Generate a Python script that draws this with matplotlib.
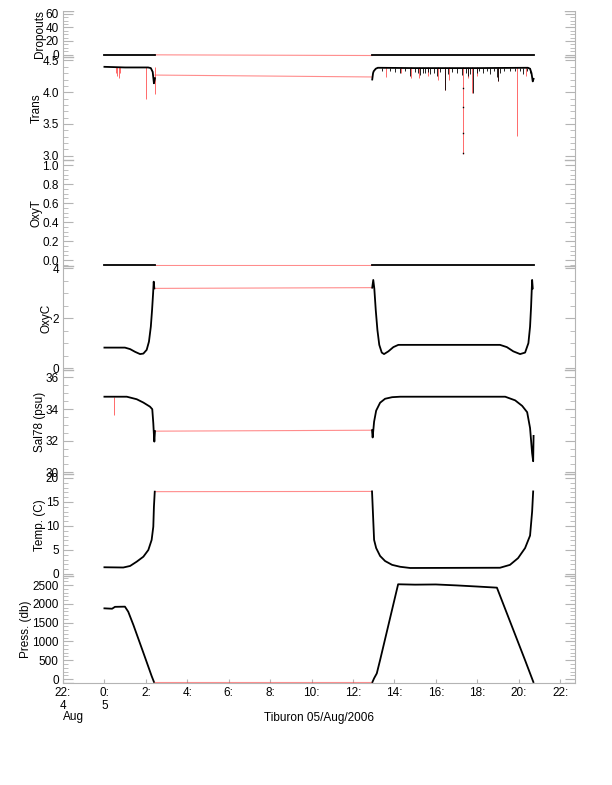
import matplotlib
matplotlib.use('Agg')
from matplotlib import pyplot as plt
from matplotlib.ticker import MultipleLocator

plt.rcParams['font.family'] = ['Liberation Sans', 'DejaVu Sans']
plt.rcParams['font.size'] = 8.5

# time axis: hours after 00:00 on 05/Aug/2006
hour_ticks = [-2, 0, 2, 4, 6, 8, 10, 12, 14, 16, 18, 20, 22]
hour_labels = ['22:\n4', '0:\n5', '2:', '4:', '6:', '8:', '10:', '12:',
               '14:', '16:', '18:', '20:', '22:']

# Dropouts
drop_t1 = [0.0, 2.42]
drop_v1 = [0.0, 0.0]
drop_t2 = [12.93, 20.72]
drop_v2 = [0.0, 0.0]
drop_gap = [-0.5, -1.5]

# Trans
trans_t1 = [0.0, 1.0, 2.11, 2.24, 2.33, 2.39, 2.44]
trans_v1 = [4.40, 4.39, 4.39, 4.38, 4.32, 4.14, 4.22]
trans_t2 = [12.93, 12.97, 13.0, 13.1, 13.2, 15.0, 18.0, 20.45, 20.55, 20.62, 20.68, 20.72]
trans_v2 = [4.20, 4.30, 4.33, 4.37, 4.385, 4.38, 4.38, 4.385, 4.37, 4.30, 4.17, 4.21]
trans_gap = [4.27, 4.24]
trans_spike_t = [0.55, 0.62, 0.70, 0.75, 2.01, 2.44, 13.60, 14.32, 14.79, 15.19,
                 15.63, 16.11, 16.43, 16.64, 17.33, 17.56, 17.76, 17.97, 19.02,
                 19.94, 20.36]
trans_spike_lo = [4.31, 4.25, 4.23, 4.30, 3.89, 3.97, 4.24, 4.31, 4.23, 4.22,
                  4.26, 4.19, 4.03, 4.20, 3.02, 4.23, 3.98, 4.26, 4.17,
                  3.31, 4.26]
trans_fuzz_t = [13.4, 13.8, 14.05, 14.27, 14.5, 14.76, 15.0, 15.12, 15.24, 15.36,
                15.48, 15.6, 15.72, 15.9, 16.04, 16.2, 16.45, 16.61, 16.8,
                17.01, 17.25, 17.45, 17.57, 17.65, 17.78, 17.97, 18.1, 18.30,
                18.45, 18.62, 18.8, 18.94, 19.02, 19.10, 19.3, 19.6, 19.8,
                20.05, 20.23, 20.4, 20.55]
trans_fuzz_lo = [4.34, 4.33, 4.32, 4.30, 4.33, 4.25, 4.32, 4.30, 4.27, 4.31,
                 4.30, 4.32, 4.28, 4.31, 4.26, 4.32, 4.03, 4.28, 4.32,
                 4.30, 4.27, 4.31, 4.25, 4.29, 3.98, 4.30, 4.33, 4.31,
                 4.33, 4.28, 4.33, 4.24, 4.17, 4.30, 4.34, 4.33, 4.34,
                 4.33, 4.29, 4.33, 4.31]
trans_dot_t = [17.33, 17.33, 17.33, 17.33]
trans_dot_v = [4.06, 3.77, 3.35, 3.04]

# OxyT
oxyt_t1 = [0.0, 2.42]
oxyt_v1 = [-0.05, -0.05]
oxyt_t2 = [12.93, 20.72]
oxyt_v2 = [-0.05, -0.05]
oxyt_gap = [-0.05, -0.05]

# OxyC
oxyc_t1 = [0.0, 0.99, 1.24, 1.48, 1.72, 1.88, 2.04, 2.15, 2.24, 2.30, 2.35, 2.38, 2.41]
oxyc_v1 = [0.82, 0.82, 0.76, 0.65, 0.56, 0.58, 0.73, 1.06, 1.66, 2.33, 3.0, 3.47, 3.2]
oxyc_t2 = [12.93, 12.98, 13.03, 13.10, 13.18, 13.27, 13.39, 13.50, 13.71, 13.95,
           14.19, 19.10, 19.43, 19.74, 20.07, 20.31, 20.47, 20.55, 20.60, 20.65, 20.68]
oxyc_v2 = [3.23, 3.54, 3.2, 2.33, 1.53, 0.93, 0.62, 0.56, 0.67, 0.84,
           0.93, 0.93, 0.84, 0.67, 0.56, 0.62, 1.0, 1.66, 2.47, 3.54, 3.2]
oxyc_gap = [3.2, 3.23]

# Sal78
sal_t1 = [0.0, 1.08, 1.56, 1.88, 2.20, 2.31, 2.36, 2.39, 2.41, 2.44]
sal_v1 = [34.78, 34.78, 34.62, 34.41, 34.15, 33.99, 33.1, 32.36, 31.94, 32.6]
sal_t2 = [12.92, 12.95, 13.02, 13.12, 13.31, 13.55, 13.89, 14.28, 19.35, 19.83,
          20.17, 20.41, 20.55, 20.65, 20.70, 20.72]
sal_v2 = [32.66, 32.2, 33.2, 33.9, 34.4, 34.65, 34.75, 34.78, 34.78, 34.55,
          34.2, 33.8, 32.8, 31.2, 30.7, 32.3]
sal_gap = [32.6, 32.66]
sal_spike_t = [0.48]
sal_spike_lo = [33.63]
sal_spike_hi = [34.78]

# Temp
temp_t1 = [0.0, 0.91, 1.24, 1.56, 1.88, 2.12, 2.28, 2.36, 2.39, 2.43]
temp_v1 = [1.4, 1.35, 1.67, 2.57, 3.6, 5.0, 7.1, 9.85, 14.0, 17.15]
temp_t2 = [12.92, 13.02, 13.12, 13.31, 13.55, 13.89, 14.28, 14.76, 19.10, 19.58,
           19.97, 20.31, 20.55, 20.65, 20.70]
temp_v2 = [17.2, 7.1, 5.4, 3.75, 2.7, 1.9, 1.5, 1.25, 1.3, 1.9,
           3.3, 5.4, 8.0, 13.0, 17.2]
temp_gap = [17.15, 17.2]

# Press
press_t1 = [0.0, 0.37, 0.51, 0.99, 1.15, 1.40, 1.88, 2.28, 2.39]
press_v1 = [1880, 1870, 1920, 1925, 1790, 1436, 700, 80, -75]
press_t2 = [12.94, 13.02, 13.15, 13.31, 14.18, 15.0, 16.0, 17.0, 18.0, 18.95,
            20.31, 20.71]
press_v2 = [-80, 20, 150, 505, 2520, 2510, 2515, 2490, 2460, 2430, 500, -80]
press_gap = [-80, -80]

W, H = 612, 785
x0, x1 = 63, 575
grey = '#b4b4b4'
red = '#ff4040'

fig = plt.figure(figsize=(W / 100, H / 100), dpi=100)


def panel(top, bottom, label, ylim, major, minor):
    ax = fig.add_axes([x0 / W, 1 - bottom / H, (x1 - x0) / W, (bottom - top) / H])
    ax.set_xlim(-2, 22.72)
    ax.set_ylim(*ylim)
    for s in ['top', 'bottom']:
        ax.spines[s].set_visible(False)
    for s in ['left', 'right']:
        ax.spines[s].set_color(grey)
    ax.yaxis.set_major_locator(MultipleLocator(major))
    ax.yaxis.set_minor_locator(MultipleLocator(minor))
    ax.tick_params(axis='y', which='both', direction='in', left=True, right=True,
                   color=grey, pad=3)
    ax.tick_params(axis='y', which='major', length=7)
    ax.tick_params(axis='y', which='minor', length=3.5)
    ax.tick_params(axis='x', which='both', bottom=False, labelbottom=False)
    for xa, xb in [(0, 0.02), (0.98, 1)]:
        ax.axhline(ylim[0], xmin=xa, xmax=xb, color=grey, lw=1)
        ax.axhline(ylim[1], xmin=xa, xmax=xb, color=grey, lw=1)
    ax.set_ylabel(label, labelpad=0)
    return ax


def trace(ax, t1, v1, t2, v2, gap):
    ax.plot([t1[-1], t2[0]], gap, color=red, lw=0.8, alpha=0.6)
    ax.plot(t1, v1, color='black', lw=1.3)
    ax.plot(t2, v2, color='black', lw=1.3)


ax = panel(11, 57, 'Dropouts', (-3.7, 64.4), 20, 5)
ax.set_yticks([0, 20, 40, 60])
trace(ax, drop_t1, drop_v1, drop_t2, drop_v2, drop_gap)

ax = panel(57, 160, 'Trans', (2.93, 4.555), 0.5, 0.1)
ax.set_yticks([3.0, 3.5, 4.0, 4.5])
ax.set_yticklabels(['3.0', '3.5', '4.0', '4.5'])
ax.vlines(trans_spike_t, trans_spike_lo, 4.39, color='#ff6a6a', lw=0.7)
trace(ax, trans_t1, trans_v1, trans_t2, trans_v2, trans_gap)
ax.vlines(trans_fuzz_t, trans_fuzz_lo, 4.38, color='black', lw=0.6)
ax.plot(trans_dot_t, trans_dot_v, 's', color='black', ms=1, mew=0)

ax = panel(160, 266, 'OxyT', (-0.063, 1.053), 0.2, 0.05)
ax.set_yticks([0.0, 0.2, 0.4, 0.6, 0.8, 1.0])
ax.set_yticklabels(['0.0', '0.2', '0.4', '0.6', '0.8', '1.0'])
trace(ax, oxyt_t1, oxyt_v1, oxyt_t2, oxyt_v2, oxyt_gap)

ax = panel(266, 370, 'OxyC', (-0.08, 4.1), 2, 0.5)
trace(ax, oxyc_t1, oxyc_v1, oxyc_t2, oxyc_v2, oxyc_gap)

ax = panel(370, 474, 'Sal78 (psu)', (29.89, 36.47), 2, 0.5)
ax.vlines(sal_spike_t, sal_spike_lo, sal_spike_hi, color='#ff6a6a', lw=0.7)
trace(ax, sal_t1, sal_v1, sal_t2, sal_v2, sal_gap)

ax = panel(474, 576, 'Temp. (C)', (-0.42, 20.83), 5, 1)
trace(ax, temp_t1, temp_v1, temp_t2, temp_v2, temp_gap)

ax = panel(576, 683, 'Press. (db)', (-105, 2740), 500, 100)
trace(ax, press_t1, press_v1, press_t2, press_v2, press_gap)
ax.spines['bottom'].set_visible(True)
ax.spines['bottom'].set_color(grey)
ax.set_xticks(hour_ticks)
ax.set_xticklabels(hour_labels, linespacing=1.05)
ax.tick_params(axis='x', which='major', bottom=True, labelbottom=True,
               direction='in', length=3, color=grey, pad=3)

fig.text(x0 / W, 1 - 717 / H, 'Aug', ha='left', va='center')
fig.text((x0 + x1) / 2 / W, 1 - 718 / H, 'Tiburon 05/Aug/2006', ha='center', va='center')

fig.savefig('out.png', dpi=100)
